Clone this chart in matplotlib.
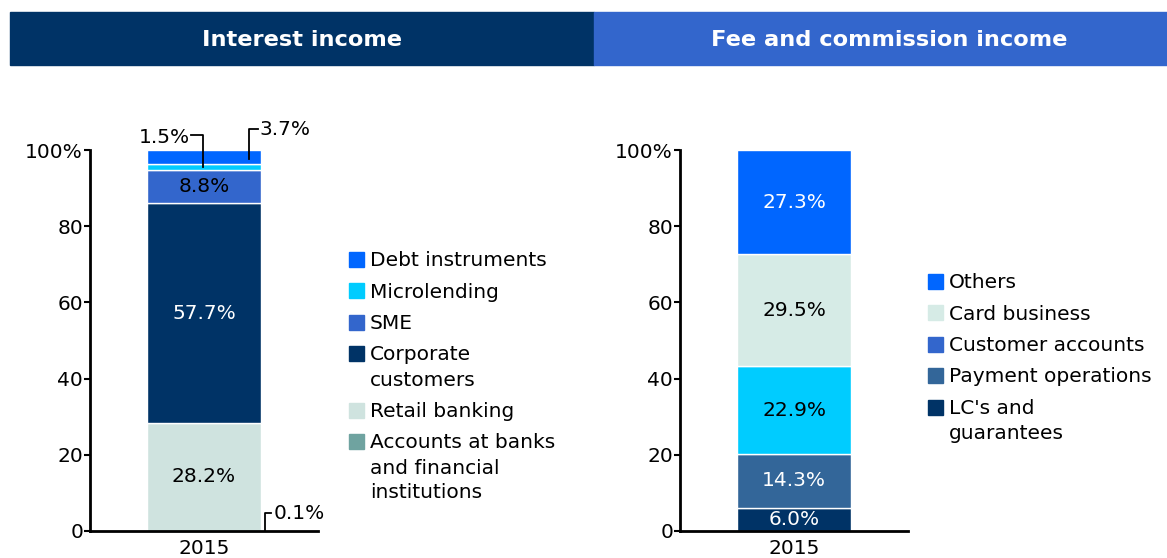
import matplotlib.pyplot as plt
from matplotlib.patches import Rectangle

# Interest income, bottom to top
int_labels = ["Accounts at banks\nand financial\ninstitutions", "Retail banking",
              "Corporate\ncustomers", "SME", "Microlending", "Debt instruments"]
int_values = [0.1, 28.2, 57.7, 8.8, 1.5, 3.7]
int_colors = ["#6fa3a0", "#cfe3df", "#003366", "#3366cc", "#00ccff", "#0066ff"]
int_text = [None, "black", "white", "black", None, None]

# Fee and commission income, bottom to top
fee_labels = ["LC's and\nguarantees", "Payment operations", "Customer accounts",
              "Card business", "Others"]
fee_values = [6.0, 14.3, 22.9, 29.5, 27.3]
fee_colors = ["#003366", "#336699", "#00ccff", "#d6ebe6", "#0066ff"]
fee_legend_colors = ["#003366", "#336699", "#3366cc", "#d6ebe6", "#0066ff"]
fee_text = ["white", "white", "black", "black", "white"]

years = ["2015"]
fs = 14.5
W, H = 1167, 558

plt.rcParams['font.family'] = ['DejaVu Sans']
fig = plt.figure(figsize=(W / 100, H / 100), dpi=100)


def fx(px):
    return px / W


def fy(py):
    return 1 - py / H


# header bars
fig.patches.append(Rectangle((fx(10), fy(65)), 584 / W, 53 / H,
                             transform=fig.transFigure, color="#003366"))
fig.patches.append(Rectangle((fx(594), fy(65)), 573 / W, 53 / H,
                             transform=fig.transFigure, color="#3366cc"))
fig.text(fx(302), fy(40), "Interest income", color="white",
         fontsize=16.2, fontweight="bold", ha="center", va="center")
fig.text(fx(889), fy(40), "Fee and commission income", color="white",
         fontsize=16.2, fontweight="bold", ha="center", va="center")


def stacked(ax, values, colors, texts):
    bottom = 0
    bottoms = []
    for v, c, t in zip(values, colors, texts):
        ax.bar(0, v, width=1, bottom=bottom, color=c, edgecolor="white", linewidth=1)
        if t is not None:
            ax.text(0, bottom + v / 2, f"{v:.1f}%", ha="center", va="center",
                    color=t, fontsize=fs)
        bottoms.append(bottom)
        bottom += v
    ax.set_xlim(-1, 1)
    ax.set_ylim(0, 100)
    ax.set_xticks([0])
    ax.set_xticklabels(years, fontsize=fs)
    ax.set_yticks([0, 20, 40, 60, 80, 100])
    ax.set_yticklabels(["0", "20", "40", "60", "80", "100%"], fontsize=fs)
    ax.tick_params(axis="y", length=4, width=1.5, pad=1)
    ax.tick_params(axis="x", length=0, pad=6)
    for s in ["top", "right"]:
        ax.spines[s].set_visible(False)
    ax.spines["left"].set_linewidth(2)
    ax.spines["bottom"].set_linewidth(2)
    return bottoms


def legend(labels, colors, x, y0):
    # entries listed top to bottom, swatch aligned with the first text line
    y = y0
    for lab, c in zip(labels, colors):
        fig.patches.append(Rectangle((fx(x), fy(y + 7.5)), 15 / W, 15 / H,
                                     transform=fig.transFigure, color=c))
        lines = lab.split("\n")
        for i, ln in enumerate(lines):
            fig.text(fx(x + 21), fy(y + 7 + 25 * i), ln, fontsize=fs,
                     ha="left", va="baseline")
        y += 31.5 + 25 * (len(lines) - 1)


ax1 = fig.add_axes([fx(90), fy(531), 228 / W, 381 / H])
b1 = stacked(ax1, int_values, int_colors, int_text)

# leader-line labels for small segments
lk = dict(color="black", lw=1.3, clip_on=False)
ym = b1[4] + int_values[4] / 2
ax1.plot([-0.11, -0.01, -0.01], [104.0, 104.0, ym], **lk)
ax1.text(-0.12, 103.4, f"{int_values[4]:.1f}%", ha="right", va="center", fontsize=fs)
yd = b1[5] + int_values[5] / 2 - 0.6
ax1.plot([0.395, 0.395, 0.47], [yd, 105.5, 105.5], **lk)
ax1.text(0.49, 105.3, f"{int_values[5]:.1f}%", ha="left", va="center", fontsize=fs)
ax1.plot([0.535, 0.535, 0.59], [b1[0], 4.7, 4.7], **lk)
ax1.text(0.61, 4.7, f"{int_values[0]:.1f}%", ha="left", va="center", fontsize=fs)

legend(int_labels[::-1], int_colors[::-1], 349, 259)

ax2 = fig.add_axes([fx(680), fy(531), 228 / W, 381 / H])
stacked(ax2, fee_values, fee_colors, fee_text)

legend(fee_labels[::-1], fee_legend_colors[::-1], 928, 281)

fig.savefig("out.png", dpi=100)
